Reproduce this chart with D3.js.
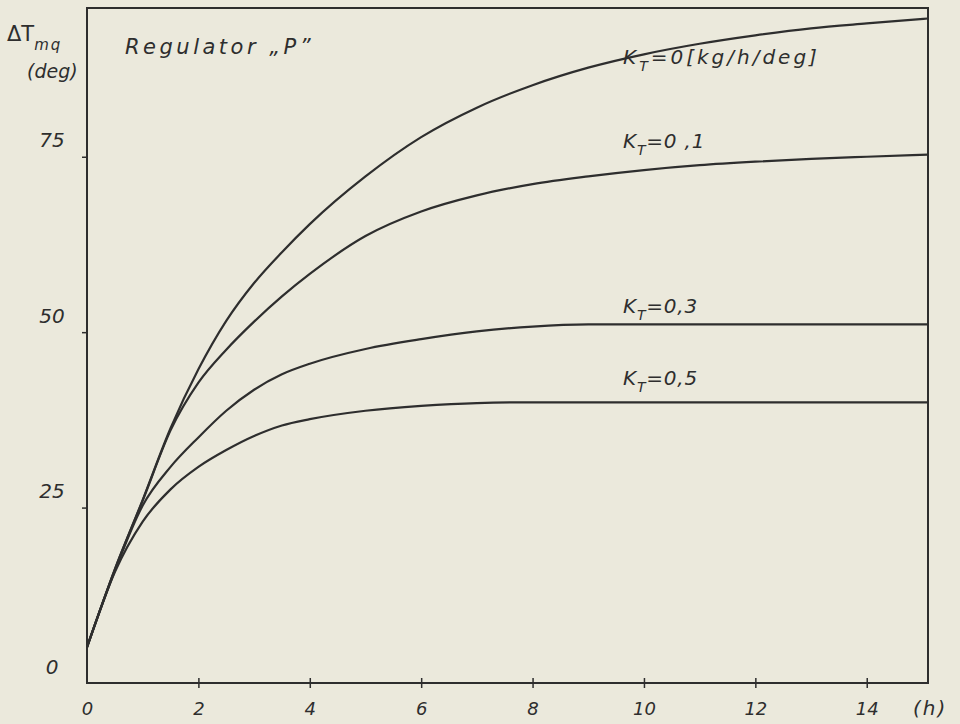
<!DOCTYPE html>
<html>
<head>
<meta charset="utf-8">
<script src="https://cdn.jsdelivr.net/npm/d3@7/dist/d3.min.js"></script>
<style>
  body { margin: 0; background: #ebe9dc; }
  #chart svg { display: block; font-family: "DejaVu Sans", sans-serif; font-style: italic; }
</style>
</head>
<body>
<div id="chart"></div>
<script>
// time grid (h) and temperature rise (deg) for each K_T
const hours = [0, 0.5, 1, 1.5, 2, 2.5, 3, 3.5, 4, 5, 6, 7, 8, 9, 10, 11, 12, 13, 14, 15.1];
const kr0   = [5.1, 16.2, 26.1, 36.3, 44.7, 51.6, 57.0, 61.4, 65.4, 72.2, 77.8, 82.0, 85.2, 87.7, 89.6, 91.1, 92.3, 93.3, 94.0, 94.7];
const kr01  = [5.1, 16.2, 26.0, 36.0, 42.8, 47.5, 51.5, 55.1, 58.3, 63.7, 67.2, 69.5, 71.1, 72.2, 73.1, 73.8, 74.3, 74.7, 75.0, 75.3];
const kr03  = [5.1, 16.0, 25.3, 30.8, 35.0, 38.8, 41.8, 44.0, 45.5, 47.6, 49.0, 50.1, 50.8, 51.1, 51.1, 51.1, 51.1, 51.1, 51.1, 51.1];
const kr05  = [5.1, 15.8, 23.0, 27.6, 30.8, 33.2, 35.2, 36.7, 37.6, 38.8, 39.5, 39.9, 40.0, 40.0, 40.0, 40.0, 40.0, 40.0, 40.0, 40.0];
const krLabels = ["0", "0 ,1", "0,3", "0,5"];
const xTicks = [0, 2, 4, 6, 8, 10, 12, 14];
const yTicks = [0, 25, 50, 75];

const width = 960, height = 724;
const ink = "#2e2e2e";

const svg = d3.select("#chart")
    .append("svg")
    .attr("width", width)
    .attr("height", height);

const x = d3.scaleLinear().domain([0, 15.1]).range([87, 928]);
const y = d3.scaleLinear().domain([0, 96.2]).range([683, 8]);

// frame
svg.append("rect")
    .attr("x", x(0)).attr("y", y(96.2))
    .attr("width", x(15.1) - x(0)).attr("height", y(0) - y(96.2))
    .attr("fill", "none").attr("stroke", ink).attr("stroke-width", 2);

// x axis: small crosses on the bottom line
const xAxis = svg.append("g")
    .attr("transform", `translate(0, ${y(0)})`)
    .call(d3.axisBottom(x).tickValues(xTicks).tickSize(5).tickSizeOuter(0).tickFormat(d3.format("d")));
xAxis.select(".domain").remove();
xAxis.selectAll(".tick line").attr("y1", -5).attr("stroke", ink).attr("stroke-width", 1.5)
    .filter(d => d === 0).remove();
xAxis.selectAll(".tick text")
    .attr("y", 0).attr("dy", 32)
    .attr("font-size", 18).attr("fill", ink)
    .attr("font-family", "DejaVu Sans").attr("font-style", "italic");

// y axis
const yAxis = svg.append("g")
    .attr("transform", `translate(${x(0)}, 0)`)
    .call(d3.axisLeft(y).tickValues(yTicks).tickSize(5).tickSizeOuter(0));
yAxis.select(".domain").remove();
yAxis.selectAll(".tick line").attr("stroke", ink).attr("stroke-width", 1.5)
    .filter(d => d === 0).remove();
yAxis.selectAll(".tick text")
    .attr("x", -35).attr("dy", -10)
    .attr("text-anchor", "middle")
    .attr("font-size", 20).attr("fill", ink)
    .attr("font-family", "DejaVu Sans").attr("font-style", "italic");

// curves
const line = d3.line()
    .x((d, i) => x(hours[i]))
    .y(d => y(d))
    .curve(d3.curveMonotoneX);

const series = [kr0, kr01, kr03, kr05];
svg.append("g")
    .selectAll("path")
    .data(series)
    .enter()
    .append("path")
    .attr("d", line)
    .attr("fill", "none")
    .attr("stroke", ink)
    .attr("stroke-width", 2.2);

// curve labels
const labelBase = [64, 148, 313, 385];
const labels = svg.append("g")
    .selectAll("text")
    .data(krLabels)
    .enter()
    .append("text")
    .attr("x", 623)
    .attr("y", (d, i) => labelBase[i])
    .attr("font-size", 20)
    .attr("fill", ink)
    .attr("letter-spacing", (d, i) => i === 0 ? 3 : 0.8);
labels.append("tspan").text("K");
labels.append("tspan").attr("dy", 7).attr("font-size", 14).text("T");
labels.append("tspan").attr("dy", -7).text((d, i) => "=" + d + (i === 0 ? "[kg/h/deg]" : ""));

// titles
svg.append("text")
    .attr("x", 125).attr("y", 54)
    .attr("font-size", 21).attr("letter-spacing", 3.5).attr("fill", ink)
    .text("Regulator \u201EP\u201D");

const yt = svg.append("text")
    .attr("x", 7).attr("y", 41)
    .attr("font-size", 21).attr("fill", ink);
yt.append("tspan").attr("font-style", "normal").text("\u0394T");
yt.append("tspan").attr("dy", 9).attr("font-size", 15).attr("letter-spacing", 2).text("mq");

svg.append("text")
    .attr("x", 27).attr("y", 78)
    .attr("font-size", 19).attr("fill", ink)
    .text("(deg)");

svg.append("text")
    .attr("x", 913).attr("y", 715)
    .attr("font-size", 20).attr("letter-spacing", 2).attr("fill", ink)
    .text("(h)");
</script>
</body>
</html>
